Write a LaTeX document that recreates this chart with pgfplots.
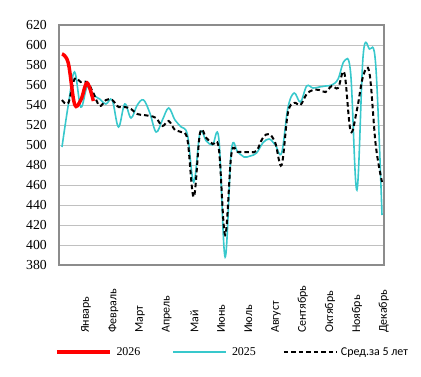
\documentclass[border=0pt]{standalone}
\usepackage{fontspec}
\setmainfont{Liberation Serif}
\newfontfamily\calfont{Carlito}
\usepackage{pgfplots}
\pgfplotsset{compat=1.18}
\definecolor{c25}{RGB}{56,200,204}
\definecolor{c26}{RGB}{255,0,0}
\definecolor{gridc}{RGB}{192,192,192}
\definecolor{framec}{RGB}{140,140,140}
\begin{document}
\begin{tikzpicture}
\useasboundingbox (0,0) rectangle (421bp,377bp);
\begin{axis}[
 at={(59bp,112bp)}, anchor=south west,
 width=325bp, height=240bp, scale only axis,
 xmin=0.522, xmax=52.319, ymin=380, ymax=620,
 ytick={380,400,...,620},
 ymajorgrids, grid style={gridc, line width=0.8bp},
 major tick length=0pt,
 axis line style={framec, line width=1.5bp},
 /pgf/number format/assume math mode=true,
 yticklabel style={font=\fontsize{13.8}{15}\selectfont, inner sep=0pt, xshift=-12bp},
 xtick={4.82,9.18,13.43,17.69,22.08,26.34,30.69,35.1,39.36,43.71,48.01,52.3},
 xticklabels={Январь,Февраль,Март,Апрель,Май,Июнь,Июль,Август,Сентябрь,Октябрь,Ноябрь,Декабрь},
 xticklabel style={font=\calfont\fontsize{12}{14}\selectfont, rotate=90, anchor=east, text width=67.7bp, align=left, inner sep=0pt},
 legend image code/.code={\draw[#1] (0bp,0bp) -- (53bp,0bp);},
 legend style={at={(-0.0123,-0.3625)}, anchor=west, draw=none, fill=none, inner sep=0pt, outer sep=0pt,
   font=\fontsize{12}{14}\selectfont, legend columns=3,
   nodes={inner sep=0pt},
   /tikz/column 1/.style={column sep=5bp},
   /tikz/column 2/.style={column sep=32bp},
   /tikz/column 3/.style={column sep=5bp},
   /tikz/column 4/.style={column sep=27bp},
   /tikz/column 5/.style={column sep=3bp}},
 legend cell align=left,
]
\addlegendimage{c26, line width=3.5bp}
\addlegendentry{2026}
\addlegendimage{c25, line width=1.6bp}
\addlegendentry{2025}
\addlegendimage{black, line width=2bp, dash pattern=on 4.5bp off 3bp}
\addlegendentry{{\calfont Сред.за 5 лет}}

\addplot[forget plot, c25, line width=1.6bp, smooth, tension=0.6] coordinates {
(1,498)(2,540)(3,573)(4,538)(5,558)(6,550)(7,546)(8,541)(9,545)(10,518)
(11,541)(12,527)(13,540)(14,545)(15,532)(16,513)(17,525)(18,537)(19,525)(20,518)
(21,510)(22,463)(23,512)(24,504)(25,500)(26,506)(27,388)(28,495)(29,493)(30,488)
(31,489)(32,492)(33,502)(34,506)(35,500)(36,492)(37,537)(38,552)(39,543)(40,559)
(41,557)(42,558)(43,559)(44,560)(45,566)(46,584)(47,572)(48,455)(49,590)(50,596)
(51,580)(52,430)};

\addplot[forget plot, black, line width=2bp, dash pattern=on 4.5bp off 3bp, smooth, tension=0.6] coordinates {
(1,545)(2,542)(3,566)(4,563)(5,563)(6,552)(7,539)(8,545)(9,545)(10,538)
(11,538)(12,536)(13,531)(14,530)(15,529)(16,527)(17,519)(18,524)(19,515)(20,513)
(21,505)(22,448)(23,512)(24,507)(25,501)(26,496)(27,410)(28,491)(29,493)(30,493)
(31,493)(32,494)(33,507)(34,511)(35,502)(36,480)(37,532)(38,542)(39,540)(40,551)
(41,555)(42,555)(43,553)(44,559)(45,557)(46,572)(47,514)(48,535)(49,569)(50,572)
(51,500)(52,463)};

\addplot[forget plot, c26, line width=3.5bp, smooth, tension=0.6] coordinates {
(1,591)(2,582)(3,541)(4,545)(5,562)(6,544)};
\end{axis}
\end{tikzpicture}
\end{document}
